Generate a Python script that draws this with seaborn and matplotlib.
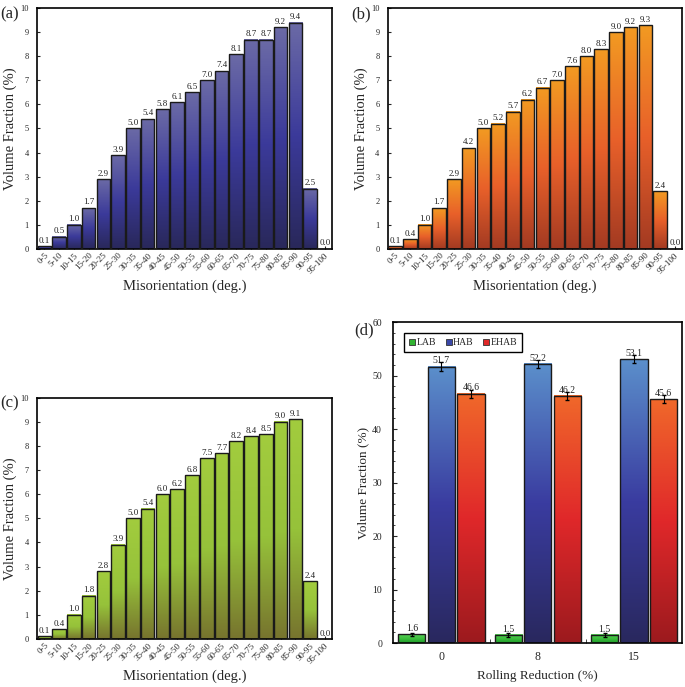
# Misorientation distributions (a-c) and boundary fractions vs rolling reduction (d)
import numpy as np
import pandas as pd
import matplotlib
matplotlib.use('Agg')
import matplotlib.pyplot as plt
import seaborn as sns
from matplotlib.colors import LinearSegmentedColormap
from matplotlib.patches import Patch

# data
bins = ['0-5', '5-10', '10-15', '15-20', '20-25', '25-30', '30-35', '35-40', '40-45', '45-50',
        '50-55', '55-60', '60-65', '65-70', '70-75', '75-80', '80-85', '85-90', '90-95', '95-100']
frac_a = [0.1, 0.5, 1.0, 1.7, 2.9, 3.9, 5.0, 5.4, 5.8, 6.1, 6.5, 7.0, 7.4, 8.1, 8.7, 8.7, 9.2, 9.4, 2.5, 0.0]
frac_b = [0.1, 0.4, 1.0, 1.7, 2.9, 4.2, 5.0, 5.2, 5.7, 6.2, 6.7, 7.0, 7.6, 8.0, 8.3, 9.0, 9.2, 9.3, 2.4, 0.0]
frac_c = [0.1, 0.4, 1.0, 1.8, 2.8, 3.9, 5.0, 5.4, 6.0, 6.2, 6.8, 7.5, 7.7, 8.2, 8.4, 8.5, 9.0, 9.1, 2.4, 0.0]

reduction = ['0', '8', '15']
boundaries = ['LAB', 'HAB', 'EHAB']
lab = [1.6, 1.5, 1.5]
hab = [51.7, 52.2, 53.1]
ehab = [46.6, 46.2, 45.6]
err_lab = [0.3, 0.3, 0.3]
err_hab = [0.8, 0.8, 0.8]
err_ehab = [0.7, 0.7, 0.7]

sns.set_style('ticks')
plt.rcParams['font.family'] = ['Liberation Serif', 'DejaVu Serif']

# gradient colormaps (bottom -> top)
cm_a = LinearSegmentedColormap.from_list('a', ['#29285a', '#3b3a9a', '#6b6aa6'])
cm_b = LinearSegmentedColormap.from_list('b', ['#a33a22', '#e8602a', '#f29a22'])
cm_c = LinearSegmentedColormap.from_list('c', ['#77742e', '#96c23a', '#a2cc3e'])
cm_lab = LinearSegmentedColormap.from_list('lab', ['#1e9a2a', '#3cbf3c', '#5ad05a'])
cm_hab = LinearSegmentedColormap.from_list('hab', ['#29285e', '#3a3ca0', '#5b8fcb'])
cm_ehab = LinearSegmentedColormap.from_list('ehab', ['#9c1a1e', '#e0282a', '#f0682a'])


def shade(ax, patches, cmap):
    grad = np.linspace(1, 0, 200).reshape(-1, 1)
    for p in patches:
        x0, y0 = p.get_xy()
        w, h = p.get_width(), p.get_height()
        p.set_facecolor('none')
        p.set_zorder(3)
        if h <= 0:
            continue
        ax.imshow(grad, extent=[x0, x0 + w, y0, y0 + h], cmap=cmap, vmin=0, vmax=1,
                  aspect='auto', zorder=2, interpolation='bilinear')


def style_box(ax):
    for s in ax.spines.values():
        s.set_visible(True)
        s.set_color('black')
        s.set_linewidth(1.2)


fig = plt.figure(figsize=(6.85, 6.87), dpi=100)
ax_a = fig.add_axes([0.054, 0.638, 0.431, 0.350])
ax_b = fig.add_axes([0.566, 0.638, 0.430, 0.350])
ax_c = fig.add_axes([0.054, 0.070, 0.431, 0.351])
ax_d = fig.add_axes([0.574, 0.064, 0.422, 0.467])

for ax, vals, cm in [(ax_a, frac_a, cm_a), (ax_b, frac_b, cm_b), (ax_c, frac_c, cm_c)]:
    sns.barplot(x=bins, y=vals, ax=ax, color='white', width=0.92,
                edgecolor='#1a1a1a', linewidth=1.0)
    cont = ax.containers[0]
    shade(ax, cont, cm)
    ax.bar_label(cont, fmt='%.1f', padding=1, fontsize=6.5, color='#222222')
    ax.set_xlim(-0.5, len(bins) - 0.5)
    ax.set_ylim(0, 10)
    ax.set_yticks(range(0, 11))
    ax.tick_params(axis='y', labelsize=6, direction='in', length=2, pad=6)
    ax.tick_params(axis='x', labelsize=6.5, direction='in', length=2, pad=2)
    plt.setp(ax.get_xticklabels(), rotation=45, ha='right', rotation_mode='anchor')
    ax.set_xlabel('Misorientation (deg.)', fontsize=10.5, labelpad=3)
    ax.set_ylabel('Volume Fraction (%)', fontsize=10.5, labelpad=2)
    style_box(ax)

# panel (d)
df = pd.DataFrame({
    'reduction': reduction * 3,
    'boundary': [b for b in boundaries for _ in reduction],
    'fraction': lab + hab + ehab,
})
sns.barplot(data=df, x='reduction', y='fraction', hue='boundary', order=reduction,
            hue_order=boundaries, ax=ax_d, width=0.92, gap=0.08, errorbar=None,
            legend=False, edgecolor='#1a1a1a', linewidth=1.0)
for cont, cm, errs in zip(ax_d.containers, [cm_lab, cm_hab, cm_ehab], [err_lab, err_hab, err_ehab]):
    shade(ax_d, cont, cm)
    xs = [p.get_x() + p.get_width() / 2 for p in cont]
    hs = [p.get_height() for p in cont]
    ax_d.errorbar(xs, hs, yerr=errs, fmt='none', ecolor='black', elinewidth=0.8,
                  capsize=1.2, zorder=4)
    ax_d.bar_label(cont, fmt='%.1f', padding=1, fontsize=7, color='#222222')

ax_d.set_xlim(-0.5, 2.5)
ax_d.set_ylim(0, 60)
ax_d.set_yticks(range(0, 61, 10))
ax_d.set_yticks(range(0, 61, 2), minor=True)
ax_d.set_xticks([0.5, 1.5], minor=True)
ax_d.tick_params(axis='y', which='major', labelsize=7, direction='in', length=3, pad=8)
ax_d.tick_params(axis='y', which='minor', direction='in', length=1.5)
ax_d.tick_params(axis='x', which='minor', direction='in', length=3)
ax_d.tick_params(axis='x', which='major', labelsize=8.5, length=0, pad=6)
ax_d.set_xlabel('Rolling Reduction (%)', fontsize=9.5, labelpad=5)
ax_d.set_ylabel('Volume Fraction (%)', fontsize=9.5, labelpad=2)
style_box(ax_d)

handles = [Patch(facecolor=c, edgecolor='#333333', linewidth=0.6, label=l)
           for c, l in zip(['#32b432', '#3a48a8', '#e02828'], boundaries)]
ax_d.legend(handles=handles, ncol=3, loc='upper left', bbox_to_anchor=(0.022, 0.98),
            fontsize=7, frameon=True, fancybox=False, edgecolor='black',
            handlelength=0.6, handleheight=0.6, handletextpad=0.15,
            columnspacing=1.0, borderpad=0.5, framealpha=1)

for lbl, x, y in [('(a)', 0.0, 0.99), ('(b)', 0.513, 0.99),
                  ('(c)', 0.0, 0.425), ('(d)', 0.517, 0.531)]:
    fig.text(x, y, lbl, fontsize=12, va='top', ha='left')

plt.savefig('out.png', dpi=100)
